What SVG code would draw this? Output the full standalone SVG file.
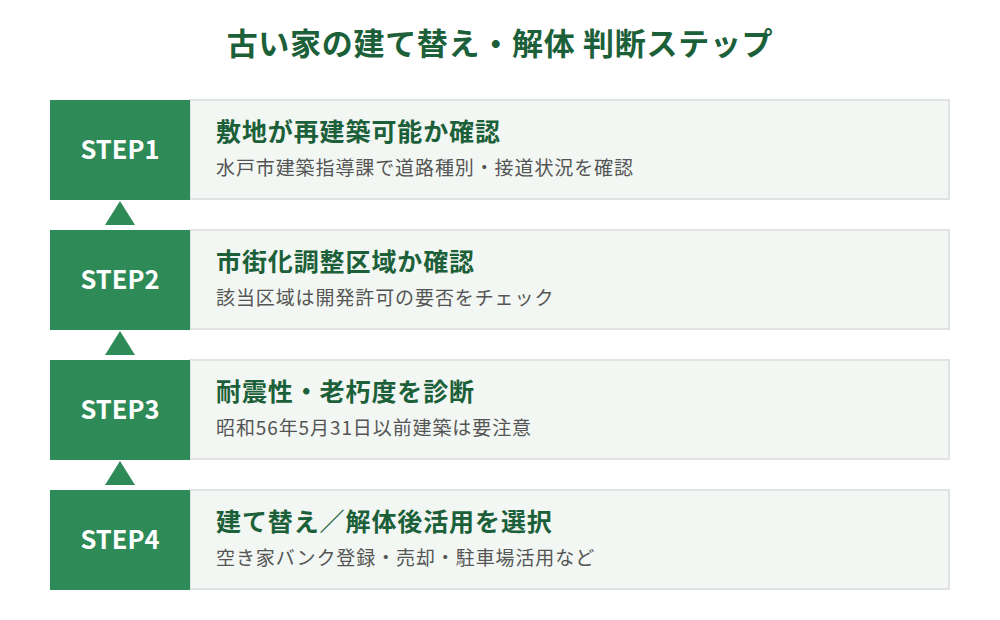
<svg xmlns="http://www.w3.org/2000/svg" width="1000" height="620" viewBox="0 0 1000 620">
<style>
.bg{fill:#ffffff}
.title{font-family:"Noto Sans CJK JP","Noto Sans",sans-serif;font-weight:700;font-size:31px;fill:#1c6039;letter-spacing:0.7px}
.badge{fill:#2e8b57}
.badgeText{font-family:"Noto Sans CJK JP","Noto Sans",sans-serif;font-weight:700;font-size:25.5px;fill:#ffffff}
.card{fill:#f2f7f3;stroke:#e0e3e1;stroke-width:2}
.head{font-family:"Noto Sans CJK JP","Noto Sans",sans-serif;font-weight:700;font-size:25px;fill:#1c6039;letter-spacing:0.9px}
.sub{font-family:"Noto Sans CJK JP","Noto Sans",sans-serif;font-size:19px;fill:#555555;letter-spacing:0.9px}
.arrow{fill:#2e8b57}
</style>
<rect class="bg" x="0" y="0" width="1000" height="620"/>
<text class="title" x="500" y="55" text-anchor="middle">古い家の建て替え・解体 判断ステップ</text>
<g id="step1">
<rect class="card" x="190" y="100" width="759" height="99"/>
<rect class="badge" x="50" y="100" width="140" height="100"/>
<text class="badgeText" x="120" y="159" text-anchor="middle">STEP1</text>
<text class="head" x="216" y="141">敷地が再建築可能か確認</text>
<text class="sub" x="216" y="175">水戸市建築指導課で道路種別・接道状況を確認</text>
</g>
<g id="step2">
<rect class="card" x="190" y="230" width="759" height="99"/>
<rect class="badge" x="50" y="230" width="140" height="100"/>
<text class="badgeText" x="120" y="289" text-anchor="middle">STEP2</text>
<text class="head" x="216" y="271">市街化調整区域か確認</text>
<text class="sub" x="216" y="305">該当区域は開発許可の要否をチェック</text>
</g>
<g id="step3">
<rect class="card" x="190" y="360" width="759" height="99"/>
<rect class="badge" x="50" y="360" width="140" height="100"/>
<text class="badgeText" x="120" y="419" text-anchor="middle">STEP3</text>
<text class="head" x="216" y="401">耐震性・老朽度を診断</text>
<text class="sub" x="216" y="435">昭和56年5月31日以前建築は要注意</text>
</g>
<g id="step4">
<rect class="card" x="190" y="490" width="759" height="99"/>
<rect class="badge" x="50" y="490" width="140" height="100"/>
<text class="badgeText" x="120" y="549" text-anchor="middle">STEP4</text>
<text class="head" x="216" y="531">建て替え／解体後活用を選択</text>
<text class="sub" x="216" y="565">空き家バンク登録・売却・駐車場活用など</text>
</g>
<g id="connectors">
<polygon class="arrow" points="120,201 105,225 135,225"/>
<polygon class="arrow" points="120,331 105,355 135,355"/>
<polygon class="arrow" points="120,461 105,485 135,485"/>
</g>
</svg>
